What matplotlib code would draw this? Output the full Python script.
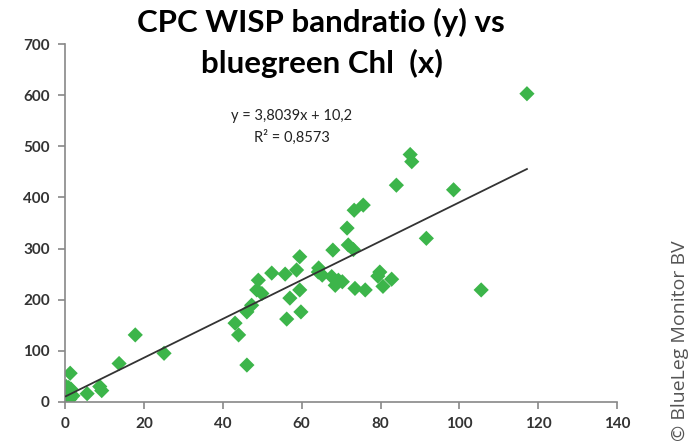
import numpy as np
import matplotlib.pyplot as plt

# Data: bluegreen Chl (x) and CPC WISP band ratio (y)
chl = [0.2, 0.3, 0.5, 0.8, 1.0, 1.2, 1.5, 2.0, 0.3, 0.5, 1.3, 1.6, 0.9,
       5.6, 8.8, 9.3, 13.7, 17.8, 25.1,
       43.1, 44.0, 46.1, 46.1, 47.3, 48.6, 49.0, 49.9, 52.4, 55.8, 56.2,
       57.0, 58.7, 59.5, 59.5, 59.8,
       64.2, 64.3, 65.2, 67.9, 71.8, 67.6, 69.3, 68.5, 73.5, 70.3, 71.5,
       73.3, 75.6, 73.1, 79.8, 79.3, 82.8, 80.6, 76.1, 84.0, 87.5, 87.9,
       91.6, 98.5, 105.5, 117.1]
ratio = [0, 20, 8, 18, 14, 5, 25, 12, 30, 2, 56, 10, 28,
         16, 30, 22, 75, 131, 95,
         154, 131, 72, 176, 189, 219, 238, 212, 252, 250, 162,
         203, 258, 284, 219, 176,
         254, 262, 248, 297, 307, 245, 238, 228, 222, 235, 340,
         375, 385, 298, 254, 246, 240, 226, 219, 424, 484, 470,
         320, 415, 219, 603]

slope = 3.8039
intercept = 10.2
r2 = 0.8573

plt.rcParams['font.family'] = ['Lato', 'DejaVu Sans']

fig = plt.figure(figsize=(6.92, 4.46), dpi=100)
ax = fig.add_axes([0.094, 0.099, 0.798, 0.802])

ax.scatter(chl, ratio, marker='D', s=60, color='#3cb54a', edgecolors='none', zorder=2)

# linear trendline over the data range
xs = np.array([min(chl), max(chl)])
ax.plot(xs, slope * xs + intercept, color='#333333', linewidth=1.3, zorder=3)

ax.set_xlim(0, 140)
ax.set_ylim(0, 700)
ax.set_xticks(range(0, 141, 20))
ax.set_yticks(range(0, 701, 100))

for side in ['top', 'right']:
    ax.spines[side].set_visible(False)
for side in ['left', 'bottom']:
    ax.spines[side].set_color('#888888')
    ax.spines[side].set_linewidth(1.2)
ax.tick_params(axis='both', direction='out', length=5, width=1.2, color='#888888',
               labelsize=11, labelcolor='#333333', pad=6)
for lbl in ax.get_xticklabels() + ax.get_yticklabels():
    lbl.set_fontweight('bold')

fig.text(0.463, 0.95, "CPC WISP bandratio (y) vs", ha='center', va='center',
         fontsize=22.5, fontweight='bold', color='#000000')
fig.text(0.465, 0.858, "bluegreen Chl  (x)", ha='center', va='center',
         fontsize=22.5, fontweight='bold', color='#000000')

ax.text(57.5, 560, f"y = {slope:.4f}x + {intercept:.1f}".replace('.', ','),
        ha='center', va='center', fontsize=10.5, color='#222222')
ax.text(57.5, 517, f"R² = {r2:.4f}".replace('.', ','),
        ha='center', va='center', fontsize=10.5, color='#222222')

fig.text(0.995, 0.012, "© BlueLeg Monitor BV", rotation=90, ha='right', va='bottom',
         fontsize=14, color='#555555', family=['Open Sans', 'DejaVu Sans'])

fig.savefig("out.png", dpi=100)
